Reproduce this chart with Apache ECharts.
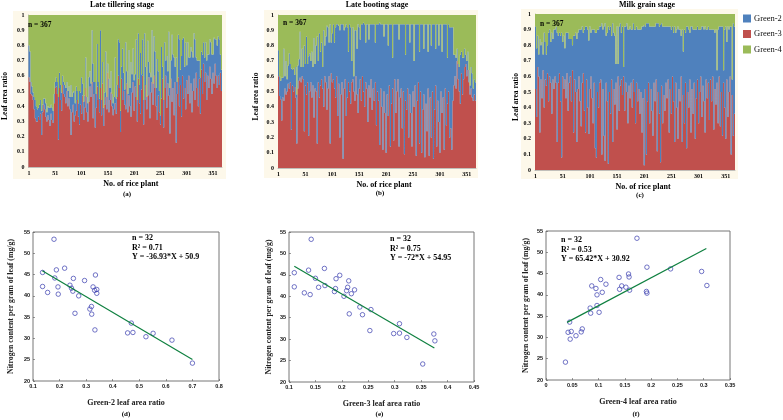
<!DOCTYPE html>
<html><head><meta charset="utf-8">
<script src="https://cdn.jsdelivr.net/npm/echarts@6/dist/echarts.min.js"></script>
<style>html,body{margin:0;padding:0;background:#fff}#c{width:783px;height:420px;filter:blur(0.35px)}</style>
</head><body><div id="c"></div>
<script>
// Plant numbers are sampled every second plant: 1,3,...,367
const plants = [];
for (let p = 1; p <= 367; p += 2) plants.push(String(p));

// Leaf area ratio, in hundredths
const tilleringGreen3 = [
59,56,48,47,44,38,32,30,30,33,31,35,21,36,41,38,33,30,34,31,
27,35,31,29,42,52,53,48,18,52,44,37,54,48,46,42,50,40,45,38,
21,36,41,30,34,37,44,33,28,41,35,47,31,39,52,36,30,43,53,46,
56,32,48,26,39,53,44,36,52,34,55,27,41,46,38,62,36,44,49,40,
34,38,42,35,46,60,52,23,58,44,50,41,38,55,36,47,40,33,49,56,
37,53,46,30,58,42,35,51,60,28,44,54,38,47,59,32,49,56,41,60,
52,40,31,47,36,28,45,58,26,52,60,39,55,47,22,58,43,52,34,56,
16,48,59,40,54,33,60,45,52,38,57,48,60,42,55,36,50,58,44,62,
52,40,58,35,64,48,68,56,62,44,60,52,66,58,48,62,55,68,60,52,
60,54,62,50];
const tilleringGreen2 = [
21,20,8,6,5,8,12,10,8,6,10,9,16,5,4,7,9,6,6,8,
12,6,8,8,6,4,6,8,28,10,10,12,6,8,8,10,6,10,8,8,
33,10,8,20,8,16,6,9,22,8,24,8,12,8,20,10,12,16,10,9,
34,36,8,30,9,28,12,9,38,10,14,12,8,30,8,6,22,8,14,8,
8,8,30,10,8,24,30,14,8,34,12,10,44,8,12,30,12,36,12,22,
20,8,38,14,30,12,40,10,24,16,44,12,8,36,10,30,10,34,14,26,
24,12,40,16,14,6,34,8,18,30,10,34,8,42,30,12,44,22,38,10,
56,8,28,44,10,40,24,40,14,44,10,34,12,30,24,40,22,30,40,10,
18,30,12,24,12,26,14,16,20,26,14,22,18,24,26,12,30,16,24,28,
26,30,12,14];
const bootingGreen3 = [
60,47,45,31,46,44,52,48,50,55,52,56,25,54,50,53,46,16,52,57,
59,56,60,58,24,54,48,56,21,50,56,46,54,33,52,50,16,56,46,54,
58,52,40,60,56,38,52,60,16,62,56,58,52,46,60,34,55,20,48,56,
6,52,58,34,46,56,50,42,56,58,50,44,60,48,36,52,58,44,60,50,
40,56,52,30,54,46,58,38,52,44,56,28,50,44,15,52,40,12,50,36,
10,48,34,54,14,42,52,18,58,36,50,58,14,46,52,26,50,9,44,38,
52,20,48,36,14,50,40,54,8,44,56,16,50,10,38,48,7,42,24,52,
8,46,20,50,6,38,54,14,44,30,10,50,36,46,12,52,28,42,50,20,
26,12,44,54,60,52,70,58,50,42,62,48,58,66,68,60,64,56,48,52,
46,44,48,44];
const bootingGreen2 = [
17,13,12,28,13,34,8,22,8,12,23,12,40,10,15,8,20,32,15,14,
30,10,18,8,56,14,38,12,52,25,14,30,12,52,16,30,70,14,42,22,
24,14,50,20,30,55,40,22,78,20,32,36,30,46,34,60,38,70,46,38,
88,38,34,60,46,20,44,50,14,34,10,46,30,30,58,40,26,50,34,45,
54,26,42,64,30,48,36,56,42,50,26,66,44,50,80,42,54,82,36,58,
84,46,46,40,80,52,20,76,36,58,44,36,70,48,42,68,44,85,30,56,
42,74,34,58,80,44,30,40,86,50,38,60,44,84,56,30,87,52,70,24,
86,48,60,44,88,56,24,80,50,50,84,44,40,48,82,42,66,30,44,72,
66,80,48,20,14,20,8,10,16,32,14,24,14,12,6,10,12,8,6,14,
16,8,10,12];
const milkGreen3 = [
52,34,66,60,24,58,46,64,40,58,54,62,44,60,56,36,58,52,60,56,
18,56,62,44,8,60,52,58,46,62,38,56,60,44,64,24,58,50,18,52,
60,44,28,56,62,38,24,58,40,23,52,60,46,30,56,14,8,50,40,56,
58,10,52,22,6,56,44,4,50,36,58,18,52,42,56,26,60,38,54,58,
48,60,38,56,50,30,54,46,56,40,58,50,30,56,44,52,36,50,24,46,
3,52,10,44,56,30,52,38,22,56,44,58,12,50,36,5,54,30,48,38,
56,46,58,24,52,36,60,44,18,56,40,20,52,44,60,18,48,30,56,14,
50,40,58,24,52,36,56,20,46,58,30,50,60,34,54,44,24,58,46,56,
32,58,44,60,26,52,42,56,30,60,28,50,22,56,40,20,58,34,50,60,
10,48,22,36];
const milkGreen2 = [
40,44,20,14,60,22,36,10,48,24,20,18,44,30,26,52,26,38,30,36,
70,30,26,42,80,22,34,20,42,26,50,28,24,40,16,62,28,38,66,36,
30,46,62,36,26,52,68,34,50,60,40,28,44,60,34,74,80,40,50,36,
34,84,38,70,88,30,44,88,40,56,28,76,36,44,12,66,8,54,40,30,
44,6,54,36,44,60,36,46,34,50,36,40,60,36,46,38,54,40,68,46,
90,40,84,50,38,62,40,54,70,36,48,36,82,44,56,88,40,62,44,54,
36,46,34,68,40,54,32,44,74,32,50,72,38,46,26,72,28,60,32,78,
42,50,30,68,40,54,34,70,44,34,60,40,30,58,38,46,68,32,44,36,
58,32,46,30,64,36,48,8,60,32,64,42,70,8,50,72,24,58,40,32,
82,10,72,56];

// Scatter points: one nitrogen value per sample, in the same order for (d),(e),(f)
const nitrogen = [53.3,45.5,46.1,46.5,44.2,44.1,43.6,44.9,42.2,42.1,42.5,41.8,41.1,40.8,40.4,40,42.1,41.3,41.5,40.6,37.5,36.9,35.7,35.9,32,33.6,31.3,31.4,30.4,31.2,29.6,24.2];
const ratioGreen2 = [.179,.136,.188,.219,.182,.252,.294,.335,.136,.194,.239,.245,.25,.155,.195,.272,.326,.332,.34,.34,.32,.314,.321,.258,.333,.47,.456,.476,.525,.552,.623,.70];
const ratioGreen3 = [.142,.11,.137,.167,.15,.189,.213,.196,.11,.156,.168,.188,.186,.129,.14,.204,.211,.209,.224,.218,.234,.255,.239,.214,.253,.309,.298,.309,.323,.374,.376,.353];
const ratioGreen4 = [.173,.296,.237,.192,.158,.139,.104,.157,.306,.087,.114,.152,.159,.191,.192,.097,.144,.14,.095,.107,.097,.084,.085,.101,.069,.045,.067,.048,.057,.042,.046,.037];
const fitGreen2 = [[.135,45.9],[.70,25.05]];
const fitGreen3 = [[.11,47.03],[.375,27.95]];
const fitGreen4 = [[.04,33.54],[.305,50.87]];

const SERIF = '"Liberation Serif","Times New Roman",serif';
const RED = '#c0504d', BLUE = '#4f81bd', GREEN = '#9bbb59';

const stacked = [
 {title:'Late tillering stage', tag:'(a)', g3:tilleringGreen3, g2:tilleringGreen2, left:27, top:15, w:195, h:152, bg:[13,11,213,168], nx:28, ny:25, titleX:122, tagX:127, tagY:194, nameShift:11, ygap:19.5},
 {title:'Late booting stage', tag:'(b)', g3:bootingGreen3, g2:bootingGreen2, left:278, top:15, w:198, h:153, bg:[264,10,214,168], nx:283, ny:23, titleX:377, tagX:380, tagY:193, nameShift:14, ygap:17.5},
 {title:'Milk grain stage', tag:'(c)', g3:milkGreen3, g2:milkGreen2, left:535, top:14, w:200, h:156, bg:[521,9,217,170], nx:540, ny:24, titleX:647, tagX:640, tagY:195, nameShift:16, ygap:14.5}
];
const scatters = [
 {x:ratioGreen2, fit:fitGreen2, xname:'Green-2 leaf area ratio', tag:'(d)', min:.1, max:.8, step:.1, left:33, top:232, w:186, h:149, notes:['n = 32','R² = 0.71','Y = -36.93*X + 50.9'], nx:132, ny:238, ygap:18.5},
 {x:ratioGreen3, fit:fitGreen3, xname:'Green-3 leaf area ratio', tag:'(e)', min:.1, max:.45, step:.05, left:289, top:232, w:185, h:150, notes:['n = 32','R² = 0.75','Y = -72*X + 54.95'], nx:390, ny:239, ygap:16.5},
 {x:ratioGreen4, fit:fitGreen4, xname:'Green-4 leaf area ratio', tag:'(f)', min:0, max:.35, step:.05, left:546, top:231, w:184, h:149, notes:['n = 32','R² = 0.53','Y = 65.42*X + 30.92'], nx:561, ny:240, ygap:16.5}
];

const grid=[], xAxis=[], yAxis=[], series=[], graphic=[];
const label=(t,x,y,size,extra)=>graphic.push({type:'text',x,y,silent:true,z:20,style:Object.assign({text:t,fill:'#000',font:`bold ${size}px ${SERIF}`,align:'center',verticalAlign:'middle'},extra||{})});

stacked.forEach((p,i)=>{
  graphic.push({type:'rect',z:-10,silent:true,shape:{x:p.bg[0],y:p.bg[1],width:p.bg[2],height:p.bg[3]},style:{fill:'#fdf8ea'}});
  grid.push({left:p.left,top:p.top,width:p.w,height:p.h});
  xAxis.push({type:'category',gridIndex:i,data:plants,boundaryGap:true,
    name:'No. of rice plant',nameLocation:'middle',nameGap:13,
    nameTextStyle:{fontFamily:SERIF,fontWeight:'bold',fontSize:8,color:'#000',padding:[0,0,0,p.nameShift]},
    axisLine:{lineStyle:{color:'#999',width:.6}},axisTick:{show:false},
    axisLabel:{interval:24,fontFamily:SERIF,fontWeight:'bold',fontSize:6,color:'#000',margin:3,hideOverlap:false}});
  yAxis.push({type:'value',gridIndex:i,min:0,max:1,interval:.1,
    name:'Leaf area ratio',nameLocation:'middle',nameGap:p.ygap,
    nameTextStyle:{fontFamily:SERIF,fontWeight:'bold',fontSize:7.5,color:'#000',padding:[0,10,0,0]},
    axisLine:{show:true,lineStyle:{color:'#999',width:.6}},axisTick:{show:false},splitLine:{show:false},
    axisLabel:{fontFamily:SERIF,fontWeight:'bold',fontSize:6,color:'#000',margin:4,hideOverlap:false}});
  const bars=(name,color,vals)=>series.push({name,type:'bar',xAxisIndex:i,yAxisIndex:i,stack:'s'+i,barWidth:'100%',
    large:true,largeThreshold:50,animation:false,itemStyle:{color},data:vals.map(v=>v/100)});
  bars('Green-3',RED,p.g3);
  bars('Green-2',BLUE,p.g2);
  bars('Green-4',GREEN,p.g3.map((v,k)=>100-v-p.g2[k]));
  label(p.title,p.titleX,5,8);
  label('n = 367',p.nx,p.ny,7.5,{align:'left'});
  label(p.tag,p.tagX,p.tagY,7);
});

scatters.forEach((p,j)=>{
  const i=j+3;
  grid.push({left:p.left,top:p.top,width:p.w,height:p.h,show:true,borderColor:'#777',borderWidth:1,backgroundColor:'#fff'});
  xAxis.push({type:'value',gridIndex:i,min:p.min,max:p.max,interval:p.step,
    name:p.xname,nameLocation:'middle',nameGap:18,
    nameTextStyle:{fontFamily:SERIF,fontWeight:'bold',fontSize:8,color:'#222'},
    axisLine:{show:false},axisTick:{inside:true,length:2,lineStyle:{color:'#555',width:.6}},splitLine:{show:false},
    axisLabel:{fontFamily:'"Liberation Sans",sans-serif',fontWeight:'bold',fontSize:5.5,color:'#111',margin:2,hideOverlap:false,
      formatter:v=>String(+v.toFixed(2))}});
  yAxis.push({type:'value',gridIndex:i,min:20,max:55,interval:5,
    name:'Nitrogen content per gram of leaf (mg/g)',nameLocation:'middle',nameGap:p.ygap,
    nameTextStyle:{fontFamily:SERIF,fontWeight:'bold',fontSize:7.8,color:'#222'},
    axisLine:{show:false},axisTick:{inside:true,length:2,lineStyle:{color:'#555',width:.6}},splitLine:{show:false},
    axisLabel:{fontFamily:'"Liberation Sans",sans-serif',fontWeight:'bold',fontSize:5.5,color:'#111',margin:3,hideOverlap:false}});
  series.push({type:'line',xAxisIndex:i,yAxisIndex:i,data:p.fit,symbol:'none',animation:false,lineStyle:{color:'#0f8040',width:1.2}});
  series.push({type:'scatter',xAxisIndex:i,yAxisIndex:i,symbol:'circle',symbolSize:4.5,animation:false,
    itemStyle:{color:'transparent',borderColor:'#3a3fb0',borderWidth:.9},
    data:p.x.map((x,k)=>[x,nitrogen[k]])});
  p.notes.forEach((t,k)=>label(t,p.nx,p.ny+k*9.5,8,{align:'left'}));
  label(p.tag,p.left+p.w/2+ (j==0?0:-2),414.5,7);
});

const chart=echarts.init(document.getElementById('c'),null,{renderer:'canvas'});
chart.setOption({
  animation:false,backgroundColor:'#fff',grid,xAxis,yAxis,series,graphic,
  legend:{orient:'vertical',left:743,top:14,padding:0,itemWidth:8,itemHeight:8,itemGap:6.5,icon:'rect',selectedMode:false,
    data:['Green-2','Green-3','Green-4'],textStyle:{fontFamily:SERIF,fontSize:8.5,color:'#111',padding:[0,0,0,-2]}}
});
</script></body></html>
